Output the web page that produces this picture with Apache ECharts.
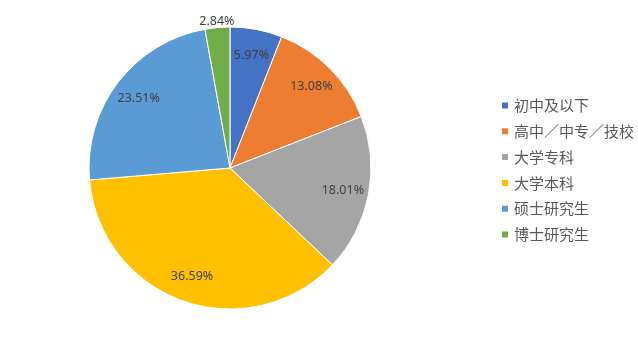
<!DOCTYPE html>
<html>
<head>
<meta charset="utf-8">
<script src="https://cdn.jsdelivr.net/npm/echarts@6/dist/echarts.min.js"></script>
<style>
  html, body { margin: 0; padding: 0; background: #fff; }
  #main { width: 638px; height: 351px; }
</style>
</head>
<body>
<div id="main"></div>
<script>
// 学历分布（百分比）
var categories = ["初中及以下", "高中／中专／技校", "大学专科", "大学本科", "硕士研究生", "博士研究生"];
var values = [5.97, 13.08, 18.01, 36.59, 23.51, 2.84];
var colors = ["#4472C4", "#ED7D31", "#A5A5A5", "#FFC000", "#5B9BD5", "#70AD47"];

var pieData = [];
for (var i = 0; i < categories.length; i++) {
  pieData.push({ name: categories[i], value: values[i] });
}

// 标签层：与主饼图同样的数据，只负责放文字
function labelData(showSmall) {
  return pieData.map(function (d) {
    var small = d.value < 5;
    return {
      name: d.name,
      value: d.value,
      label: { show: showSmall ? small : !small }
    };
  });
}

var labelStyle = {
  position: "inside",
  formatter: "{c}%",
  color: "#404040",
  fontSize: 12.5,
  fontFamily: "Noto Sans, sans-serif"
};

var myChart = echarts.init(document.getElementById("main"));
myChart.setOption({
  animation: false,
  color: colors,
  legend: {
    orient: "vertical",
    left: 500,
    top: 95,
    padding: 0,
    itemWidth: 8,
    itemHeight: 8,
    itemGap: 4.8,
    icon: "rect",
    data: categories,
    textStyle: {
      color: "#595959",
      fontSize: 15,
      lineHeight: 21,
      fontFamily: "Noto Sans CJK SC"
    }
  },
  series: [
    {
      name: "主图",
      type: "pie",
      center: [230, 168],
      radius: 141,
      startAngle: 90,
      clockwise: true,
      label: { show: false },
      labelLine: { show: false },
      itemStyle: { borderColor: "#fff", borderWidth: 1 },
      emphasis: { disabled: true },
      data: pieData
    },
    {
      name: "标签",
      type: "pie",
      center: [230, 168],
      radius: [82, 142],
      startAngle: 90,
      silent: true,
      itemStyle: { color: "transparent" },
      label: labelStyle,
      labelLine: { show: false },
      emphasis: { disabled: true },
      data: labelData(false)
    },
    {
      name: "外标签",
      type: "pie",
      center: [230, 168],
      radius: [136, 152],
      startAngle: 90,
      silent: true,
      itemStyle: { color: "transparent" },
      label: labelStyle,
      labelLine: { show: false },
      emphasis: { disabled: true },
      data: labelData(true)
    }
  ]
});
</script>
</body>
</html>
